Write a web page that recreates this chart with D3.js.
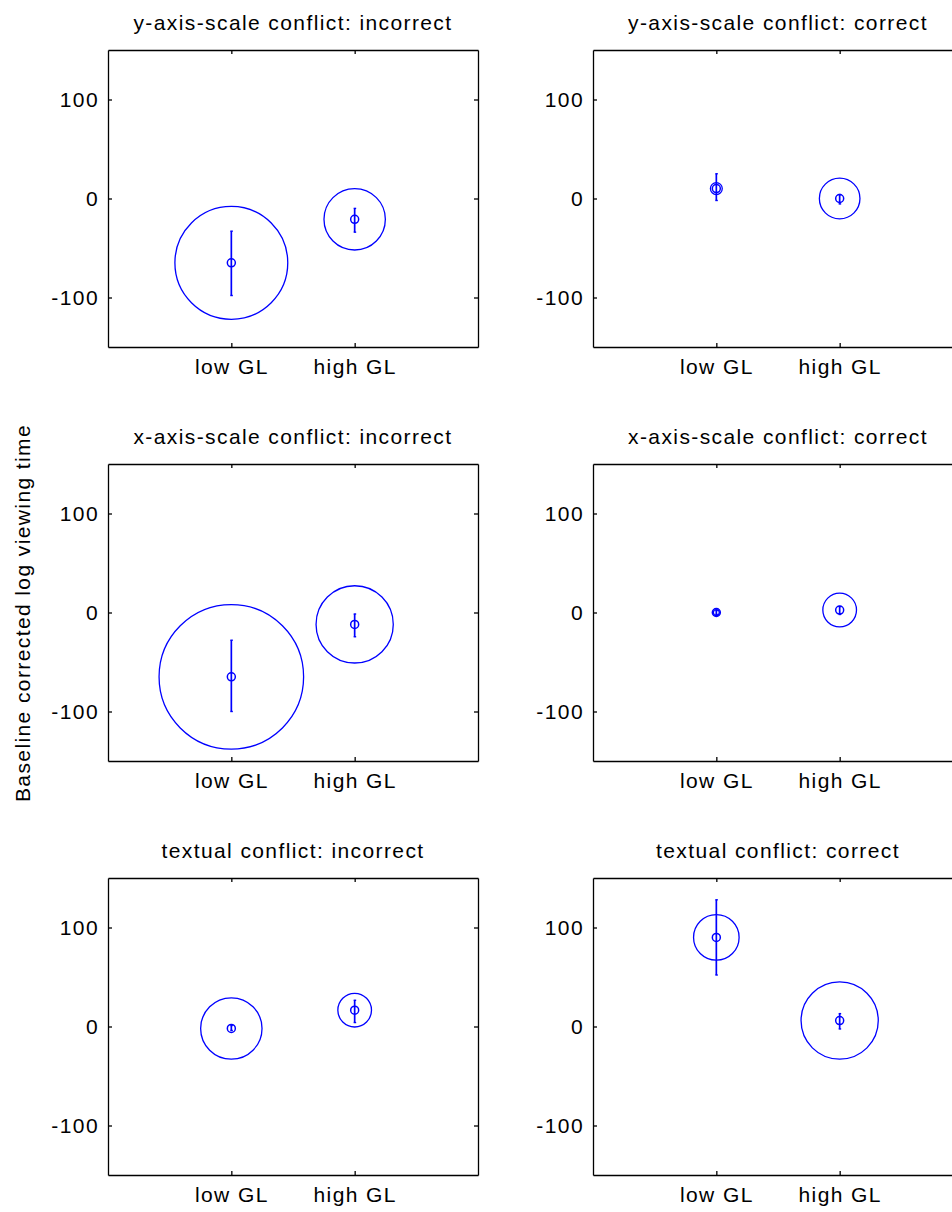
<!DOCTYPE html>
<html>
<head>
<meta charset="utf-8">
<script src="https://cdn.jsdelivr.net/npm/d3@7"></script>
<style>
  html, body { margin: 0; padding: 0; background: #fff; }
  svg { display: block; }
  text { font-family: "Liberation Sans", Arial, Helvetica, sans-serif; font-size: 21px; letter-spacing: 1.4px; fill: #000; }
</style>
</head>
<body>
<svg id="chart" width="952" height="1212"></svg>
<script>
// ---- data ----
const panelTitles = [
  "y-axis-scale conflict: incorrect",
  "y-axis-scale conflict: correct",
  "x-axis-scale conflict: incorrect",
  "x-axis-scale conflict: correct",
  "textual conflict: incorrect",
  "textual conflict: correct"
];
const categories = ["low GL", "high GL"];
const yTickValues = [-100, 0, 100];
const yTickLabels = ["-100", "0", "100"];
const yLabel = "Baseline corrected log viewing time";
// mean per panel: [low GL, high GL]
const means   = [[-65, -21], [10, 0], [-65, -12], [0, 2.5], [-2, 16.5], [90, 6]];
// error bar lower / upper ends
const errLow  = [[-98, -34], [-2, -5.5], [-100, -24.5], [-2, -2], [-4, 4], [52, -2.5]];
const errHigh = [[-33, -10], [25, 4], [-28, -1.5], [2, 6], [1, 26.5], [128, 13]];
// spread (drawn as circle radius, in y-axis units)
const spread  = [[57, 31], [6, 20.5], [73, 39], [3, 17], [31, 17], [23, 39]];

// ---- layout ----
const colX = [108, 593];
const rowY = [50, 464, 878];
const pw = 370, ph = 297;
const blue = "#0000ff";

const svg = d3.select("#chart");

panelTitles.forEach((title, p) => {
  const col = p % 2, row = Math.floor(p / 2);
  const x0 = colX[col], y0 = rowY[row];
  const x = d3.scaleLinear().domain([0, 3]).range([x0, x0 + pw]);
  const y = d3.scaleLinear().domain([-150, 150]).range([y0 + ph, y0]);
  const g = svg.append("g");

  // axes (inward ticks, box)
  const styleAxis = sel => {
    sel.selectAll("path.domain").attr("stroke", "#000").attr("stroke-width", 1.3);
    sel.selectAll(".tick line").attr("stroke", "#000").attr("stroke-width", 1.3);
    sel.selectAll(".tick text").attr("fill", "#000");
    sel.attr("font-size", null).attr("font-family", null);
  };
  g.append("g").attr("transform", `translate(${x0},0)`)
    .call(d3.axisLeft(y).tickValues(yTickValues).tickSize(-4).tickSizeOuter(0).tickPadding(9)
      .tickFormat(d => yTickLabels[yTickValues.indexOf(d)]))
    .call(styleAxis);
  g.append("g").attr("transform", `translate(${x0 + pw},0)`)
    .call(d3.axisRight(y).tickValues(yTickValues).tickSize(-4).tickSizeOuter(0).tickFormat(""))
    .call(styleAxis);
  g.append("g").attr("transform", `translate(0,${y0 + ph})`)
    .call(d3.axisBottom(x).tickValues([1, 2]).tickSize(-4).tickSizeOuter(0).tickPadding(12)
      .tickFormat(d => categories[d - 1]))
    .call(styleAxis);
  g.append("g").attr("transform", `translate(0,${y0})`)
    .call(d3.axisTop(x).tickValues([1, 2]).tickSize(-4).tickSizeOuter(0).tickFormat(""))
    .call(styleAxis);

  // title
  g.append("text")
    .attr("x", (x(0) + x(3)) / 2)
    .attr("y", y0 - 20)
    .attr("text-anchor", "middle")
    .text(title);

  const pts = categories.map((c, i) => ({
    xi: i + 1,
    m: means[p][i], lo: errLow[p][i], hi: errHigh[p][i], s: spread[p][i]
  }));

  // spread circles
  g.selectAll("circle.spread").data(pts).join("circle")
    .attr("class", "spread")
    .attr("cx", d => x(d.xi))
    .attr("cy", d => y(d.m))
    .attr("r", d => y(0) - y(d.s))
    .attr("fill", "none")
    .attr("stroke", blue)
    .attr("stroke-width", 1.3);

  // error bars
  g.selectAll("line.err").data(pts).join("line")
    .attr("class", "err")
    .attr("x1", d => x(d.xi)).attr("x2", d => x(d.xi))
    .attr("y1", d => y(d.lo)).attr("y2", d => y(d.hi))
    .attr("stroke", blue).attr("stroke-width", 1.7);
  g.selectAll("line.capHi").data(pts).join("line")
    .attr("class", "capHi")
    .attr("x1", d => x(d.xi) - 1).attr("x2", d => x(d.xi) + 1.5)
    .attr("y1", d => y(d.hi)).attr("y2", d => y(d.hi))
    .attr("stroke", blue).attr("stroke-width", 1.4);
  g.selectAll("line.capLo").data(pts).join("line")
    .attr("class", "capLo")
    .attr("x1", d => x(d.xi) - 1).attr("x2", d => x(d.xi) + 1.5)
    .attr("y1", d => y(d.lo)).attr("y2", d => y(d.lo))
    .attr("stroke", blue).attr("stroke-width", 1.4);

  // mean markers
  g.selectAll("circle.mark").data(pts).join("circle")
    .attr("class", "mark")
    .attr("cx", d => x(d.xi))
    .attr("cy", d => y(d.m))
    .attr("r", 4)
    .attr("fill", "none")
    .attr("stroke", blue)
    .attr("stroke-width", 1.5);
});

// shared y label
svg.append("text")
  .attr("transform", "translate(30,613) rotate(-90)")
  .attr("text-anchor", "middle")
  .text(yLabel);
</script>
</body>
</html>
